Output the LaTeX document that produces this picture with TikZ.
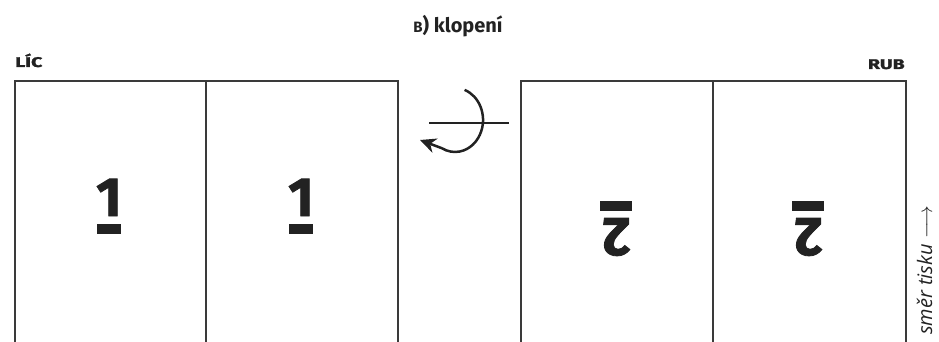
\documentclass[tikz,border=0pt]{standalone}
\usepackage{fontspec}
\setmainfont{Fira Sans}
\newfontfamily\heavy{Fira Sans}[BoldFeatures={FakeBold=1.5}]
\newfontfamily\dirfont{Open Sans}
\usetikzlibrary{arrows.meta}
\definecolor{ink}{HTML}{222222}
\definecolor{edge}{HTML}{3A3A3A}
\tikzset{
  panel/.style={draw=edge, line width=2pt},
  digit/.style={font=\heavy\bfseries\fontsize{55}{55}\selectfont, text=ink, inner sep=0pt},
  bar/.style={fill=ink, draw=none},
  label/.style={font=\heavy\bfseries\fontsize{14}{14}\selectfont, text=ink, inner sep=0pt, xscale=1.4},
  turn/.style={draw=ink, line width=2.5pt},
}
\begin{document}
\begin{tikzpicture}[x=1pt,y=-1pt]
\useasboundingbox (0,0) rectangle (939,342);
% title
\node[font=\bfseries\fontsize{20}{20}\selectfont, text=ink, anchor=base, inner sep=0pt] (title) at (458,33) {{\fontsize{15}{15}\selectfont B}) klopení};
\node[label, anchor=base west] (lic) at (15,67) {LÍC};
\node[label, anchor=base east] (rub) at (905,69) {RUB};
% left sheet
\draw[panel] (14.5,345) -- (14.5,81) -- (398,81) -- (398,345);
\draw[panel] (206,81) -- (206,345);
% right sheet
\draw[panel] (521,345) -- (521,81) -- (906,81) -- (906,345);
\draw[panel] (713,81) -- (713,345);
% digits 1
\node[digit, anchor=base] (one1) at (109,216) {1};
\fill[bar] (97,224) rectangle (121,234);
\node[digit, anchor=base] (one2) at (301,216) {1};
\fill[bar] (289,224) rectangle (313,234);
% digits 2 rotated
\fill[bar] (600,201) rectangle (632,211);
\node[digit, anchor=base, rotate=180] (two1) at (616,218) {2};
\fill[bar] (792,201) rectangle (824,211);
\node[digit, anchor=base, rotate=180] (two2) at (808,218) {2};
% turn symbol
\coordinate (axl) at (429,123);
\coordinate (axr) at (509,123);
\draw[turn] (axl) -- (axr);
\coordinate (arcstart) at (464.6,89.9);
\coordinate (tip) at (420,140);
\draw[turn, -{Stealth[length=16pt,width=15pt]}] (arcstart) arc[start angle=70, end angle=-118, x radius=28pt, y radius=32pt] -- (tip);
% direction label
\node[font=\dirfont\itshape\fontsize{20}{20}\selectfont, text=ink, rotate=90, anchor=base west, inner sep=0pt] (dir) at (932,335) {směr tisku $\longrightarrow$};
\end{tikzpicture}
\end{document}
